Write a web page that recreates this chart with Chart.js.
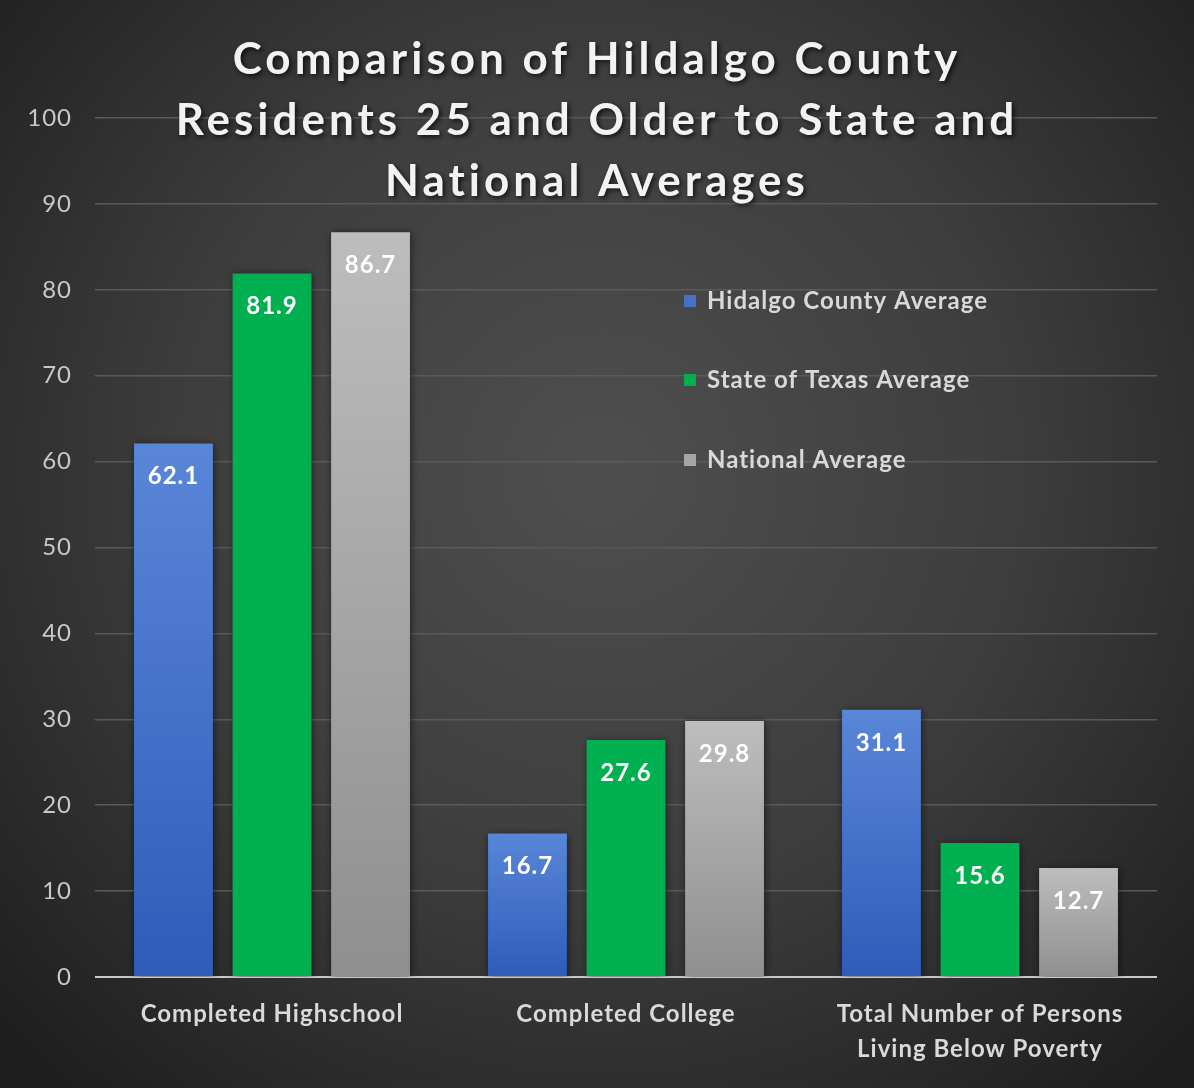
<!DOCTYPE html>
<html>
<head>
<meta charset="utf-8">
<script src="https://cdn.jsdelivr.net/npm/chart.js@4.4.1/dist/chart.umd.min.js"></script>
<style>
  html, body { margin: 0; padding: 0; background: #2a2a2a; }
  #wrap { width: 1194px; height: 1088px; }
</style>
</head>
<body>
<div id="wrap"><canvas id="chart" width="1194" height="1088"></canvas></div>
<script>
const titleLines = ['Comparison of Hildalgo County', 'Residents 25 and Older to State and', 'National Averages'];
const categories = ['Completed Highschool', 'Completed College', ['Total Number of Persons', 'Living Below Poverty']];
const seriesNames = ['Hidalgo County Average', 'State of Texas Average', 'National Average'];
const hidalgo = [62.1, 16.7, 31.1];
const texas = [81.9, 27.6, 15.6];
const national = [86.7, 29.8, 12.7];
const yTicks = { min: 0, max: 100, step: 10 };

const FONT = 'Lato, "Open Sans", sans-serif';

// top / bottom colours of each series' bar gradient
const barColors = [
  ['#5a86d8', '#2f5cb9'],
  ['#00b050', '#00b050'],
  ['#bdbdbd', '#8f8f8f'],
];
const legendColors = ['#4472c4', '#00b050', '#a5a5a5'];

function barFill(i) {
  return (c) => {
    const chart = c.chart;
    if (!chart.chartArea || c.raw == null) return barColors[i][1];
    const y = chart.scales.y;
    const top = y.getPixelForValue(c.raw);
    const bottom = y.getPixelForValue(0);
    const g = chart.ctx.createLinearGradient(0, top, 0, bottom);
    g.addColorStop(0, barColors[i][0]);
    g.addColorStop(1, barColors[i][1]);
    return g;
  };
}

const background = {
  id: 'background',
  beforeDraw(chart) {
    const { ctx, width, height } = chart;
    ctx.save();
    const g = ctx.createRadialGradient(600, 470, 20, 600, 470, 820);
    g.addColorStop(0, '#4e4e4e');
    g.addColorStop(0.5, '#3d3d3d');
    g.addColorStop(1, '#1e1e1e');
    ctx.fillStyle = g;
    ctx.fillRect(0, 0, width, height);
    ctx.restore();
    // the original text is a bit wider-set than Lato
    ctx.letterSpacing = '1px';
  }
};

const barShadow = {
  id: 'barShadow',
  beforeDatasetsDraw(chart) {
    const ctx = chart.ctx;
    ctx.save();
    ctx.shadowColor = 'rgba(0,0,0,0.55)';
    ctx.shadowBlur = 8;
    ctx.shadowOffsetX = 1;
    ctx.shadowOffsetY = 1;
  },
  afterDatasetsDraw(chart) {
    chart.ctx.restore();
  }
};

const valueLabels = {
  id: 'valueLabels',
  afterDatasetsDraw(chart) {
    const ctx = chart.ctx;
    ctx.save();
    ctx.font = 'bold 24px ' + FONT;
    ctx.fillStyle = '#ffffff';
    ctx.textAlign = 'center';
    ctx.textBaseline = 'middle';
    chart.data.datasets.forEach((ds, i) => {
      chart.getDatasetMeta(i).data.forEach((bar, j) => {
        ctx.fillText(ds.data[j].toFixed(1), bar.x, bar.y + 33);
      });
    });
    ctx.restore();
  }
};

const overlay = {
  id: 'overlay',
  afterDraw(chart) {
    const ctx = chart.ctx;
    ctx.save();
    // title
    ctx.font = 'bold 44px ' + FONT;
    ctx.letterSpacing = '4px';
    ctx.textAlign = 'center';
    ctx.textBaseline = 'middle';
    ctx.shadowColor = 'rgba(0,0,0,0.75)';
    ctx.shadowBlur = 5;
    ctx.shadowOffsetX = 2;
    ctx.shadowOffsetY = 2;
    ctx.fillStyle = '#f2f2f2';
    titleLines.forEach((t, i) => ctx.fillText(t, 597, 60 + i * 61));
    ctx.restore();

    // legend
    ctx.save();
    ctx.font = 'bold 24px ' + FONT;
    ctx.letterSpacing = '1px';
    ctx.textAlign = 'left';
    ctx.textBaseline = 'middle';
    const ys = [301, 380, 460];
    chart.data.datasets.forEach((ds, i) => {
      ctx.fillStyle = legendColors[i];
      ctx.fillRect(684, ys[i] - 6, 12, 12);
      ctx.fillStyle = '#d9d9d9';
      ctx.fillText(ds.label, 707, ys[i]);
    });
    ctx.restore();
  }
};

new Chart(document.getElementById('chart'), {
  type: 'bar',
  data: {
    labels: categories,
    datasets: [
      { label: seriesNames[0], data: hidalgo, backgroundColor: barFill(0) },
      { label: seriesNames[1], data: texas, backgroundColor: barFill(1) },
      { label: seriesNames[2], data: national, backgroundColor: barFill(2) },
    ]
  },
  options: {
    responsive: false,
    animation: false,
    layout: { padding: { top: 118, right: 37, bottom: 0, left: 0 } },
    datasets: {
      bar: { categoryPercentage: 0.835, barPercentage: 0.8 }
    },
    plugins: {
      legend: { display: false },
      title: { display: false },
      tooltip: { enabled: false }
    },
    scales: {
      x: {
        afterFit(scale) { scale.height = 111; },
        grid: { display: false },
        border: { display: false },
        ticks: {
          color: '#d9d9d9',
          font: { family: FONT, size: 24, weight: 'bold', lineHeight: 1.45 },
          padding: 12,
          maxRotation: 0,
          autoSkip: false
        }
      },
      y: {
        min: yTicks.min,
        max: yTicks.max,
        afterFit(scale) { scale.width = 95; },
        border: { display: false },
        grid: {
          drawTicks: false,
          color: (c) => c.tick.value === 0 ? '#c8c8c8' : '#5a5a5a',
          lineWidth: (c) => c.tick.value === 0 ? 2 : 1.5
        },
        ticks: {
          stepSize: yTicks.step,
          color: '#c8c8c8',
          padding: 23,
          font: { family: FONT, size: 24 }
        }
      }
    }
  },
  plugins: [background, barShadow, valueLabels, overlay]
});
</script>
</body>
</html>
